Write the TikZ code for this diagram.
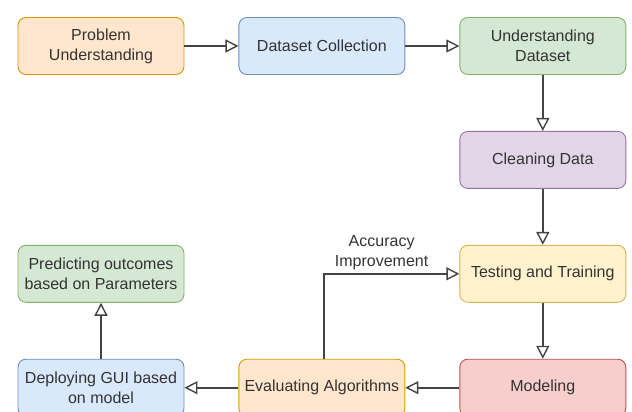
\documentclass[tikz,border=0pt]{standalone}
\usepackage{fontspec}
\setmainfont{Liberation Sans}
\usepackage{tikz}
\usetikzlibrary{arrows.meta,positioning}

\definecolor{txtgray}{HTML}{333333}
\definecolor{linegray}{HTML}{444444}
\definecolor{orangefill}{HTML}{FFE6CC}\definecolor{orangeline}{HTML}{D79B00}
\definecolor{bluefill}{HTML}{DAE8FC}\definecolor{blueline}{HTML}{6C8EBF}
\definecolor{greenfill}{HTML}{D5E8D4}\definecolor{greenline}{HTML}{82B366}
\definecolor{purplefill}{HTML}{E1D5E7}\definecolor{purpleline}{HTML}{9673A6}
\definecolor{yellowfill}{HTML}{FFF2CC}\definecolor{yellowline}{HTML}{D6B656}
\definecolor{redfill}{HTML}{F8CECC}\definecolor{redline}{HTML}{B85450}

\begin{document}
\begin{tikzpicture}[x=1pt, y=-1pt, auto,
  >={Triangle[open, length=13pt, width=13pt, line width=1.4pt]},
  stage/.style={draw, rounded corners=8pt, line width=0.9pt, minimum width=166pt, minimum height=57pt,
    align=center, text=txtgray, font=\fontsize{16}{20}\selectfont},
  flow/.style={->, draw=linegray, line width=1.8pt}]
\useasboundingbox (0,0) rectangle (632,412);

\node (pu) at (101,46) [stage, fill=orangefill, draw=orangeline] {Problem\\Understanding};
\node (dc) [stage, fill=bluefill, draw=blueline, right=54pt of pu] {Dataset Collection};
\node (ud) [stage, fill=greenfill, draw=greenline, right=54pt of dc] {Understanding\\Dataset};
\node (cd) [stage, fill=purplefill, draw=purpleline, below=56pt of ud] {Cleaning Data};
\node (tt) [stage, fill=yellowfill, draw=yellowline, below=56pt of cd] {Testing and Training};
\node (mo) [stage, fill=redfill, draw=redline, below=56pt of tt] {Modeling};
\node (ea) [stage, fill=orangefill, draw=orangeline, left=54pt of mo] {Evaluating Algorithms};
\node (dg) [stage, fill=bluefill, draw=blueline, left=54pt of ea] {Deploying GUI based\\on model};
\node (po) [stage, fill=greenfill, draw=greenline, above=56pt of dg] {Predicting outcomes\\based on Parameters};

\draw [flow] (pu) -- (dc);
\draw [flow] (dc) -- (ud);
\draw [flow] (ud) -- (cd);
\draw [flow] (cd) -- (tt);
\draw [flow] (tt) -- (mo);
\draw [flow] (mo) -- (ea);
\draw [flow] (ea) -- (dg);
\draw [flow] (dg) -- (po);
% feedback loop
\draw [flow] ([xshift=2pt]ea.north) |- (tt.west)
  node [pos=0.75, above=0pt, xshift=-10pt, align=center, text=txtgray, font=\fontsize{16}{20}\selectfont] {Accuracy\\Improvement};
\end{tikzpicture}
\end{document}
